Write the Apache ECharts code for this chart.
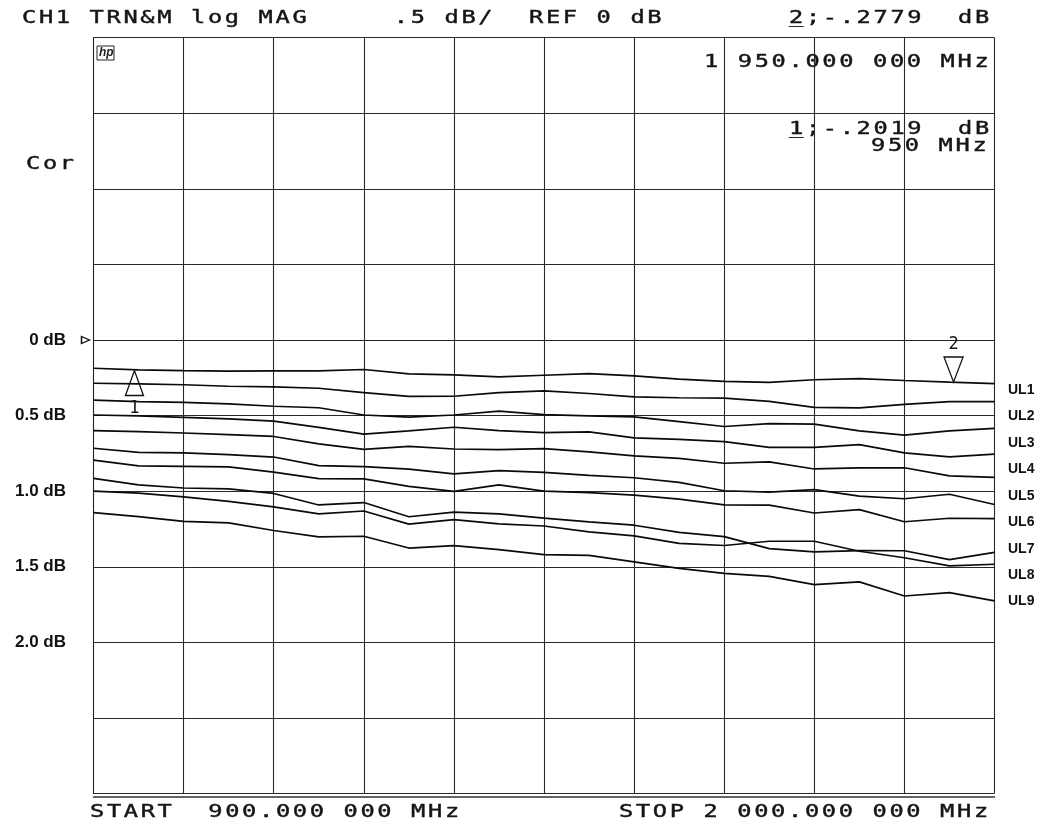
<!DOCTYPE html>
<html>
<head>
<meta charset="utf-8">
<script src="https://cdn.jsdelivr.net/npm/echarts@6/dist/echarts.min.js"></script>
<style>
html,body{margin:0;padding:0;background:#fff;}
#chart{width:1046px;height:829px;}
</style>
</head>
<body>
<div id="chart"></div>
<script>
// ---- data (transmission magnitude, dB) ----
const freqMHz = [900,955,1010,1065,1120,1175,1230,1285,1340,1395,1450,1505,1560,1615,1670,1725,1780,1835,1890,1945,2000];
const trace1  = [-0.187,-0.198,-0.203,-0.206,-0.204,-0.204,-0.195,-0.224,-0.231,-0.244,-0.233,-0.222,-0.237,-0.259,-0.274,-0.280,-0.263,-0.255,-0.268,-0.279,-0.288];
const trace2  = [-0.286,-0.290,-0.296,-0.306,-0.310,-0.319,-0.348,-0.373,-0.372,-0.348,-0.336,-0.354,-0.376,-0.382,-0.385,-0.406,-0.445,-0.449,-0.426,-0.407,-0.407];
const trace3  = [-0.397,-0.407,-0.413,-0.423,-0.438,-0.448,-0.496,-0.510,-0.496,-0.471,-0.494,-0.502,-0.508,-0.540,-0.572,-0.553,-0.556,-0.601,-0.629,-0.601,-0.585];
const trace4  = [-0.496,-0.502,-0.512,-0.522,-0.536,-0.578,-0.623,-0.601,-0.577,-0.599,-0.613,-0.608,-0.647,-0.657,-0.672,-0.710,-0.710,-0.692,-0.746,-0.773,-0.755];
const trace5  = [-0.600,-0.606,-0.615,-0.626,-0.638,-0.687,-0.723,-0.704,-0.721,-0.725,-0.719,-0.740,-0.766,-0.783,-0.815,-0.806,-0.853,-0.846,-0.845,-0.899,-0.909];
const trace6  = [-0.716,-0.743,-0.746,-0.758,-0.774,-0.831,-0.837,-0.854,-0.886,-0.864,-0.875,-0.895,-0.911,-0.942,-0.997,-1.006,-0.989,-1.033,-1.050,-1.020,-1.088];
const trace7  = [-0.794,-0.833,-0.836,-0.839,-0.874,-0.917,-0.919,-0.968,-1.001,-0.958,-0.999,-1.009,-1.026,-1.052,-1.091,-1.092,-1.144,-1.122,-1.202,-1.179,-1.181];
const trace8  = [-0.915,-0.958,-0.979,-0.985,-1.015,-1.091,-1.075,-1.169,-1.138,-1.150,-1.178,-1.203,-1.225,-1.272,-1.300,-1.380,-1.401,-1.393,-1.394,-1.452,-1.405];
const trace9  = [-0.999,-1.013,-1.037,-1.067,-1.104,-1.150,-1.131,-1.218,-1.188,-1.216,-1.230,-1.269,-1.295,-1.345,-1.359,-1.331,-1.331,-1.397,-1.440,-1.494,-1.483];
const trace10 = [-1.142,-1.168,-1.200,-1.210,-1.260,-1.302,-1.298,-1.376,-1.360,-1.386,-1.420,-1.424,-1.467,-1.511,-1.543,-1.563,-1.618,-1.600,-1.693,-1.671,-1.725];
const traces = [trace1,trace2,trace3,trace4,trace5,trace6,trace7,trace8,trace9,trace10];
const traceLabels = ['UL1','UL2','UL3','UL4','UL5','UL6','UL7','UL8','UL9'];
const marker1 = {freq: 950, value: -0.2019};
const marker2 = {freq: 1950, value: -0.2779};
const refLevel = 0;
const yTickLabels = {'0':'0 dB','-0.5':'0.5 dB','-1':'1.0 dB','-1.5':'1.5 dB','-2':'2.0 dB'};

// ---- text helpers (plotter style monospace) ----
const PITCH = 16.9;
const MONO = '"DejaVu Sans Mono", monospace';
const INK = '#151515';
function monoChar(ch, x, y, size) {
  return {type:'text', x: x, y: y, scaleX: 1.28, silent:true,
    style:{text: ch, fontSize: size, fontFamily: MONO, fill: INK, stroke: INK, lineWidth: 0.45,
      align:'left', verticalAlign:'middle'}};
}
function monoText(str, x0, yc, size, underlineIdx) {
  const els = [];
  for (let i = 0; i < str.length; i++) {
    if (str[i] === ' ') continue;
    els.push(monoChar(str[i], x0 + i*PITCH, yc, size));
  }
  (underlineIdx||[]).forEach(i => els.push(monoChar('_', x0 + i*PITCH, yc, size)));
  return els;
}

const graphicEls = [].concat(
  monoText('CH1 TRN&M log MAG     .5 dB/  REF 0 dB', 22, 18.5, 18.5),
  monoText('2;-.2779  dB', 789, 18.5, 18.5, [0]),
  monoText('1 950.000 000 MHz', 704, 62, 18.5),
  monoText('1;-.2019  dB', 789, 129.5, 18.5, [0]),
  monoText('950 MHz', 871, 146.5, 18.5),
  monoText('Cor', 26, 164, 18.5),
  monoText('START  900.000 000 MHz', 90, 812, 18.5),
  monoText('STOP 2 000.000 000 MHz', 619, 812, 18.5)
);
// hp logo
graphicEls.push({type:'rect', shape:{x:97, y:46, width:17, height:14}, style:{fill:'none', stroke:'#222', lineWidth:1}, silent:true});
graphicEls.push({type:'text', x:99, y:53, silent:true, style:{text:'hp', fontSize:12, fontStyle:'italic', fontWeight:'bold', fontFamily:'Liberation Sans', fill:'#222', verticalAlign:'middle'}});
// UL labels
traceLabels.forEach((t,i) => {
  graphicEls.push({type:'text', x:1008, y:390 + i*26.45, silent:true,
    style:{text:t, fontSize:14, fontWeight:'bold', fontFamily:'Liberation Sans', fill:'#111', verticalAlign:'middle'}});
});

const lineColor = '#0a0a0a';
const series = traces.map((arr, idx) => {
  const s = {
    type:'line', name:'trace'+(idx+1), xAxisIndex:0, yAxisIndex:0,
    data: freqMHz.map((f,i) => [f, arr[i]]),
    showSymbol:false, symbol:'none', animation:false,
    lineStyle:{color:lineColor, width:1.7}, itemStyle:{color:lineColor}, z:3
  };
  if (idx === 0) {
    s.markPoint = {
      animation:false, silent:true,
      itemStyle:{color:'rgba(255,255,255,0)', borderColor:'#111', borderWidth:1.4},
      data:[
        {name:'m1', coord:[marker1.freq, marker1.value], symbol:'path://M10,0 L20,28 L0,28 Z', symbolSize:[18,25], symbolOffset:[0,12.5],
          label:{show:true, position:'bottom', distance:4, formatter:'1', fontSize:17, fontFamily:MONO, color:INK}},
        {name:'m2', coord:[marker2.freq, marker2.value], symbol:'path://M0,0 L20,0 L10,28 Z', symbolSize:[19,25], symbolOffset:[0,-12.5],
          label:{show:true, position:'top', distance:3, formatter:'2', fontSize:17, fontFamily:MONO, color:INK}},
        {name:'ref', coord:[freqMHz[0], refLevel], symbol:'path://M0,0 L10,5 L0,10 Z', symbolSize:[8,7], symbolOffset:[-8,0],
          label:{show:false}}
      ]
    };
  }
  return s;
});

const chart = echarts.init(document.getElementById('chart'), null, {renderer:'canvas'});
chart.setOption({
  backgroundColor:'#ffffff',
  animation:false,
  grid:{left:93.5, right:51.5, top:37.6, bottom:35.4, containLabel:false},
  xAxis:[
    {type:'value', min:900, max:2000, interval:110,
      axisLine:{show:true, lineStyle:{color:'#222', width:1}}, axisTick:{show:false}, axisLabel:{show:false},
      splitLine:{show:true, lineStyle:{color:'#2a2a2a', width:1.1}}},
    {type:'value', min:900, max:2000, position:'bottom', offset:3.5,
      axisLine:{show:true, lineStyle:{color:'#333', width:1.5}}, axisTick:{show:false}, axisLabel:{show:false},
      splitLine:{show:false}}
  ],
  yAxis:{type:'value', min:-3, max:2, interval:0.5,
    axisLine:{show:true, lineStyle:{color:'#222', width:1}}, axisTick:{show:false},
    axisLabel:{show:true, margin:27.5, fontSize:17, fontWeight:'bold', fontFamily:'Liberation Sans', color:'#111',
      formatter: v => { const k = String(Math.round(v*10)/10); return yTickLabels[k] || ''; }},
    splitLine:{show:true, lineStyle:{color:'#2a2a2a', width:1.1}}},
  graphic:{elements: graphicEls},
  series: series
});
</script>
</body>
</html>
